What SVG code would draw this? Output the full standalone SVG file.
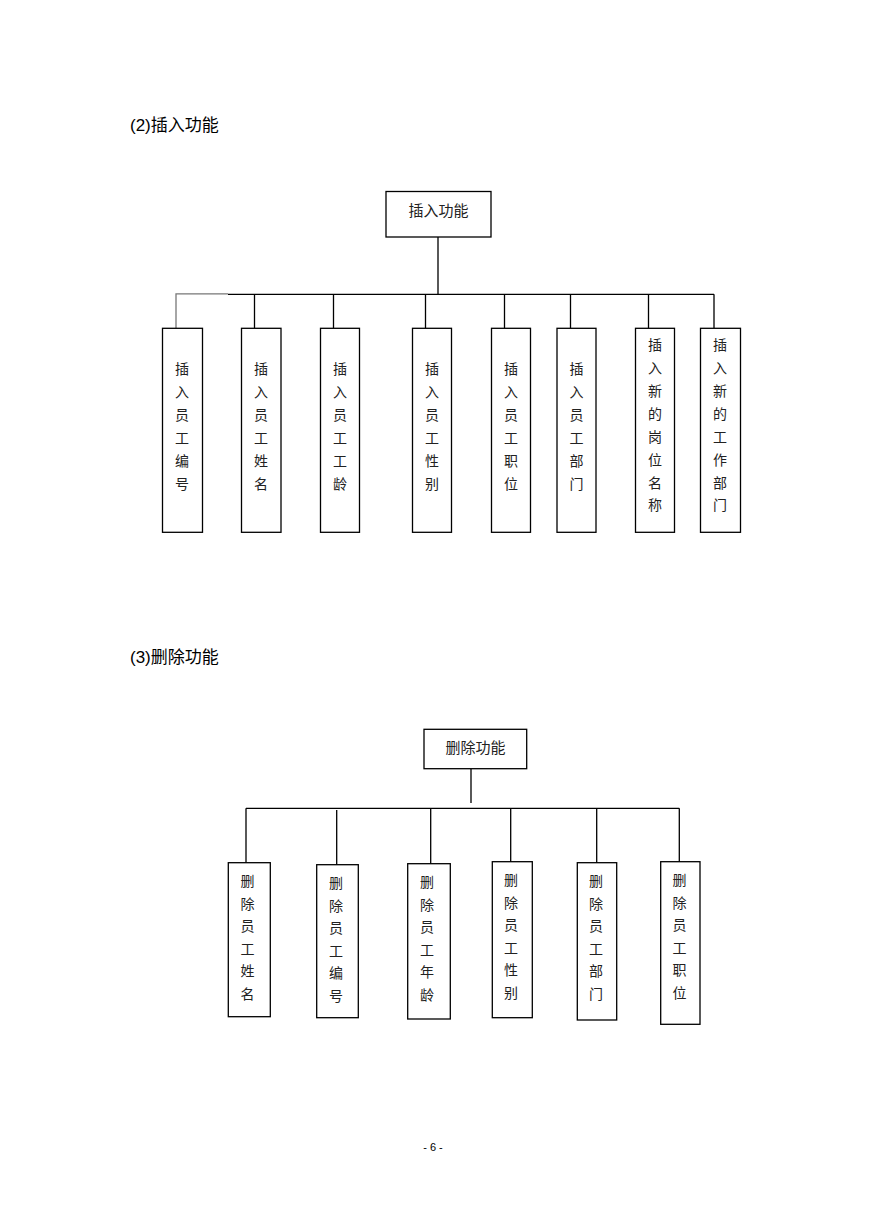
<svg xmlns="http://www.w3.org/2000/svg" width="869" height="1228" viewBox="0 0 869 1228">
<style>
.bx{fill:#fff;stroke:#000;stroke-width:1.3}
.ln{stroke:#000;stroke-width:1.3;fill:none}
.lg{stroke:#777;stroke-width:1.3;fill:none}
.t{font-family:"Noto Sans CJK SC","Noto Sans",sans-serif;font-size:14px;fill:#222;text-anchor:middle;dominant-baseline:central}
.h{font-family:"Liberation Sans","Noto Sans CJK SC",sans-serif;font-size:17px;fill:#000}
.f{font-family:"Liberation Sans",sans-serif;font-size:11px;fill:#000;text-anchor:middle}
</style>
<rect width="869" height="1228" fill="#fff"/>
<text class="h" x="130" y="131">(2)插入功能</text>
<text class="h" x="130" y="663">(3)删除功能</text>
<text class="f" x="433" y="1151">- 6 -</text>

<g id="connectors">
<path class="ln" d="M438,237V294.3M228,294.3H714M254.5,294.3V328M333.5,294.3V328M425.5,294.3V328M504.5,294.3V328M570.5,294.3V328M648.5,294.3V328M714,294.3V328"/>
<path class="lg" d="M176,328V293.8H228"/>
<path class="ln" d="M471,769V803M246,808.3H679.3M246,808.3V863M336.7,810V864.7M430.7,808.3V866M510.7,808.3V862M596.7,808.3V863M679.3,808.3V862"/>
</g>

<g id="n-insert"><rect class="bx" x="386" y="191.5" width="105" height="45.5"/><text class="t" x="438.5" y="209" style="font-size:15px">插入功能</text></g>
<g id="n-i1"><rect class="bx" x="162.5" y="328.3" width="40" height="204"/><text class="t"><tspan x="182" y="368">插</tspan><tspan x="182" y="391">入</tspan><tspan x="182" y="414">员</tspan><tspan x="182" y="437">工</tspan><tspan x="182" y="460">编</tspan><tspan x="182" y="483">号</tspan></text></g>
<g id="n-i2"><rect class="bx" x="241.5" y="328.3" width="39.5" height="204"/><text class="t"><tspan x="261" y="368">插</tspan><tspan x="261" y="391">入</tspan><tspan x="261" y="414">员</tspan><tspan x="261" y="437">工</tspan><tspan x="261" y="460">姓</tspan><tspan x="261" y="483">名</tspan></text></g>
<g id="n-i3"><rect class="bx" x="320.5" y="328.3" width="39" height="204"/><text class="t"><tspan x="340" y="368">插</tspan><tspan x="340" y="391">入</tspan><tspan x="340" y="414">员</tspan><tspan x="340" y="437">工</tspan><tspan x="340" y="460">工</tspan><tspan x="340" y="483">龄</tspan></text></g>
<g id="n-i4"><rect class="bx" x="412.5" y="328.3" width="39" height="204"/><text class="t"><tspan x="432" y="368">插</tspan><tspan x="432" y="391">入</tspan><tspan x="432" y="414">员</tspan><tspan x="432" y="437">工</tspan><tspan x="432" y="460">性</tspan><tspan x="432" y="483">别</tspan></text></g>
<g id="n-i5"><rect class="bx" x="491.5" y="328.3" width="39" height="204"/><text class="t"><tspan x="511" y="368">插</tspan><tspan x="511" y="391">入</tspan><tspan x="511" y="414">员</tspan><tspan x="511" y="437">工</tspan><tspan x="511" y="460">职</tspan><tspan x="511" y="483">位</tspan></text></g>
<g id="n-i6"><rect class="bx" x="557" y="328.3" width="39" height="204"/><text class="t"><tspan x="576.5" y="368">插</tspan><tspan x="576.5" y="391">入</tspan><tspan x="576.5" y="414">员</tspan><tspan x="576.5" y="437">工</tspan><tspan x="576.5" y="460">部</tspan><tspan x="576.5" y="483">门</tspan></text></g>
<g id="n-i7"><rect class="bx" x="635.5" y="328.3" width="39" height="204"/><text class="t"><tspan x="655" y="344">插</tspan><tspan x="655" y="367">入</tspan><tspan x="655" y="390">新</tspan><tspan x="655" y="413">的</tspan><tspan x="655" y="436">岗</tspan><tspan x="655" y="459">位</tspan><tspan x="655" y="482">名</tspan><tspan x="655" y="504">称</tspan></text></g>
<g id="n-i8"><rect class="bx" x="700.5" y="328.3" width="40" height="204"/><text class="t"><tspan x="720" y="344">插</tspan><tspan x="720" y="367">入</tspan><tspan x="720" y="390">新</tspan><tspan x="720" y="413">的</tspan><tspan x="720" y="436">工</tspan><tspan x="720" y="459">作</tspan><tspan x="720" y="482">部</tspan><tspan x="720" y="504">门</tspan></text></g>

<g id="n-delete"><rect class="bx" x="424" y="729.3" width="102.7" height="39.4"/><text class="t" x="475.5" y="746" style="font-size:15px">删除功能</text></g>
<g id="n-d1"><rect class="bx" x="228.3" y="862.7" width="42" height="154"/><text class="t"><tspan x="247.5" y="880">删</tspan><tspan x="247.5" y="902.5">除</tspan><tspan x="247.5" y="925">员</tspan><tspan x="247.5" y="947.5">工</tspan><tspan x="247.5" y="970">姓</tspan><tspan x="247.5" y="992.5">名</tspan></text></g>
<g id="n-d2"><rect class="bx" x="316.7" y="864.7" width="41.6" height="153"/><text class="t"><tspan x="336" y="882">删</tspan><tspan x="336" y="904.5">除</tspan><tspan x="336" y="927">员</tspan><tspan x="336" y="949.5">工</tspan><tspan x="336" y="972">编</tspan><tspan x="336" y="994.5">号</tspan></text></g>
<g id="n-d3"><rect class="bx" x="407.7" y="863.7" width="42.6" height="155.3"/><text class="t"><tspan x="427" y="881">删</tspan><tspan x="427" y="903.5">除</tspan><tspan x="427" y="926">员</tspan><tspan x="427" y="948.5">工</tspan><tspan x="427" y="971">年</tspan><tspan x="427" y="993.5">龄</tspan></text></g>
<g id="n-d4"><rect class="bx" x="492.3" y="861.7" width="40" height="156"/><text class="t"><tspan x="511" y="879">删</tspan><tspan x="511" y="901.5">除</tspan><tspan x="511" y="924">员</tspan><tspan x="511" y="946.5">工</tspan><tspan x="511" y="969">性</tspan><tspan x="511" y="991.5">别</tspan></text></g>
<g id="n-d5"><rect class="bx" x="577.3" y="862.7" width="39.4" height="157.3"/><text class="t"><tspan x="596" y="880">删</tspan><tspan x="596" y="902.5">除</tspan><tspan x="596" y="925">员</tspan><tspan x="596" y="947.5">工</tspan><tspan x="596" y="970">部</tspan><tspan x="596" y="992.5">门</tspan></text></g>
<g id="n-d6"><rect class="bx" x="660.7" y="861.7" width="39.3" height="162.6"/><text class="t"><tspan x="679.5" y="879">删</tspan><tspan x="679.5" y="901.5">除</tspan><tspan x="679.5" y="924">员</tspan><tspan x="679.5" y="946.5">工</tspan><tspan x="679.5" y="969">职</tspan><tspan x="679.5" y="991.5">位</tspan></text></g>
</svg>
